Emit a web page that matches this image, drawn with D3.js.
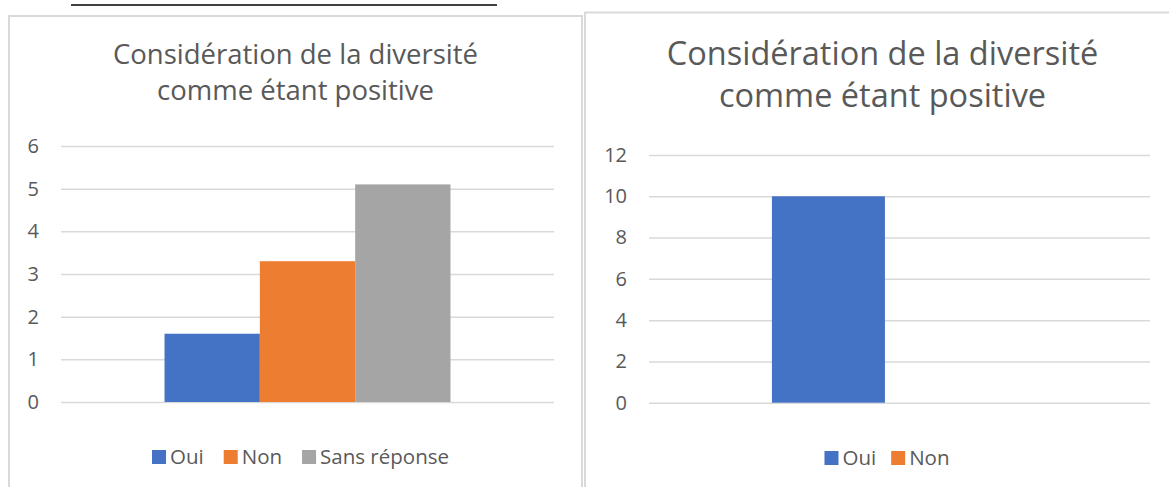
<!DOCTYPE html>
<html>
<head>
<meta charset="utf-8">
<script src="https://cdn.jsdelivr.net/npm/d3@7"></script>
<style>
  html, body { margin: 0; padding: 0; background: #ffffff; }
  svg { display: block; }
  text { font-family: "Open Sans", "Noto Sans", sans-serif; fill: #595959; }
</style>
</head>
<body>
<svg id="chart" width="1169" height="487"></svg>
<script>
// ---- data ----
const titleLines = ["Considération de la diversité", "comme étant positive"];

const leftSeries = ["Oui", "Non", "Sans réponse"];
const leftValues = [1.6, 3.3, 5.1];
const leftTicks = [0, 1, 2, 3, 4, 5, 6];

const rightSeries = ["Oui", "Non"];
const rightValues = [10, 0];
const rightTicks = [0, 2, 4, 6, 8, 10, 12];

const seriesColors = { "Oui": "#4472c4", "Non": "#ed7d31", "Sans réponse": "#a5a5a5" };

// ---- drawing ----
const svg = d3.select("#chart");

// top underline
svg.append("line")
  .attr("x1", 71).attr("x2", 497).attr("y1", 5).attr("y2", 5)
  .attr("stroke", "#000").attr("stroke-width", 1.6);

function drawChart(cfg) {
  const g = svg.append("g");
  // panel border
  g.append("rect")
    .attr("x", cfg.panel.x).attr("y", cfg.panel.y)
    .attr("width", cfg.panel.w).attr("height", cfg.panel.h)
    .attr("fill", "#fff").attr("stroke", "#d9d9d9").attr("stroke-width", 2);

  // title
  cfg.titleLines.forEach((line, i) => {
    g.append("text")
      .attr("text-anchor", "middle")
      .style("font-size", cfg.titleSize + "px")
      .attr("x", cfg.titleX).attr("y", cfg.titleY[i]).text(line);
  });

  const y = d3.scaleLinear().domain(cfg.domain).range([cfg.plot.bottom, cfg.plot.top]);
  const x = d3.scaleBand().domain(cfg.series)
    .range([cfg.plot.left, cfg.plot.right])
    .paddingInner(0).paddingOuter(cfg.paddingOuter).align(cfg.align);

  // gridlines + tick labels
  const axis = d3.axisLeft(y).tickValues(cfg.ticks)
    .tickSize(-(cfg.plot.right - cfg.plot.left)).tickPadding(22)
    .tickFormat(d3.format("d"));
  const ag = g.append("g").attr("transform", `translate(${cfg.plot.left},0)`).call(axis);
  ag.select(".domain").remove();
  ag.selectAll(".tick line").attr("stroke", "#d9d9d9").attr("stroke-width", 1.5);
  ag.selectAll(".tick text")
    .attr("fill", "#595959")
    .style("font-size", "20px")
    .style("font-family", "'Open Sans', 'Noto Sans', sans-serif");

  // bars
  g.append("g").selectAll("rect")
    .data(cfg.series.map((s, i) => ({ s, v: cfg.values[i] })))
    .join("rect")
    .attr("x", d => x(d.s))
    .attr("width", x.bandwidth())
    .attr("y", d => y(d.v))
    .attr("height", d => y(0) - y(d.v))
    .attr("fill", d => seriesColors[d.s]);

  // legend
  const lg = g.append("g");
  let cx = 0;
  cfg.series.forEach(s => {
    const it = lg.append("g").attr("transform", `translate(${cx},0)`);
    it.append("rect").attr("x", 0).attr("y", -14).attr("width", 14).attr("height", 14)
      .attr("fill", seriesColors[s]);
    const tx = it.append("text").attr("x", 18).attr("y", 0)
      .style("font-size", "20.5px").text(s);
    const w = 18 + tx.node().getComputedTextLength();
    cx += w + cfg.legendGap;
  });
  const total = cx - cfg.legendGap;
  lg.attr("transform", `translate(${cfg.legendCenter - total / 2},${cfg.legendY})`);
}

drawChart({
  panel: { x: 9, y: 16, w: 573, h: 500 },
  titleLines: titleLines,
  titleSize: 27.5,
  titleX: 295.5,
  titleY: [64, 100],
  domain: [0, 6],
  ticks: leftTicks,
  plot: { left: 61, right: 554, top: 146, bottom: 402 },
  series: leftSeries,
  values: leftValues,
  paddingOuter: 1.086,
  align: 0.5,
  legendCenter: 300.5,
  legendY: 464,
  legendGap: 20
});

drawChart({
  panel: { x: 585, y: 12.5, w: 600, h: 500 },
  titleLines: titleLines,
  titleSize: 32.5,
  titleX: 882.5,
  titleY: [65, 107],
  domain: [0, 12],
  ticks: rightTicks,
  plot: { left: 649, right: 1150, top: 155, bottom: 402.7 },
  series: rightSeries,
  values: rightValues,
  paddingOuter: 1.217,
  align: 0.447,
  legendCenter: 887,
  legendY: 465,
  legendGap: 15
});
</script>
</body>
</html>
